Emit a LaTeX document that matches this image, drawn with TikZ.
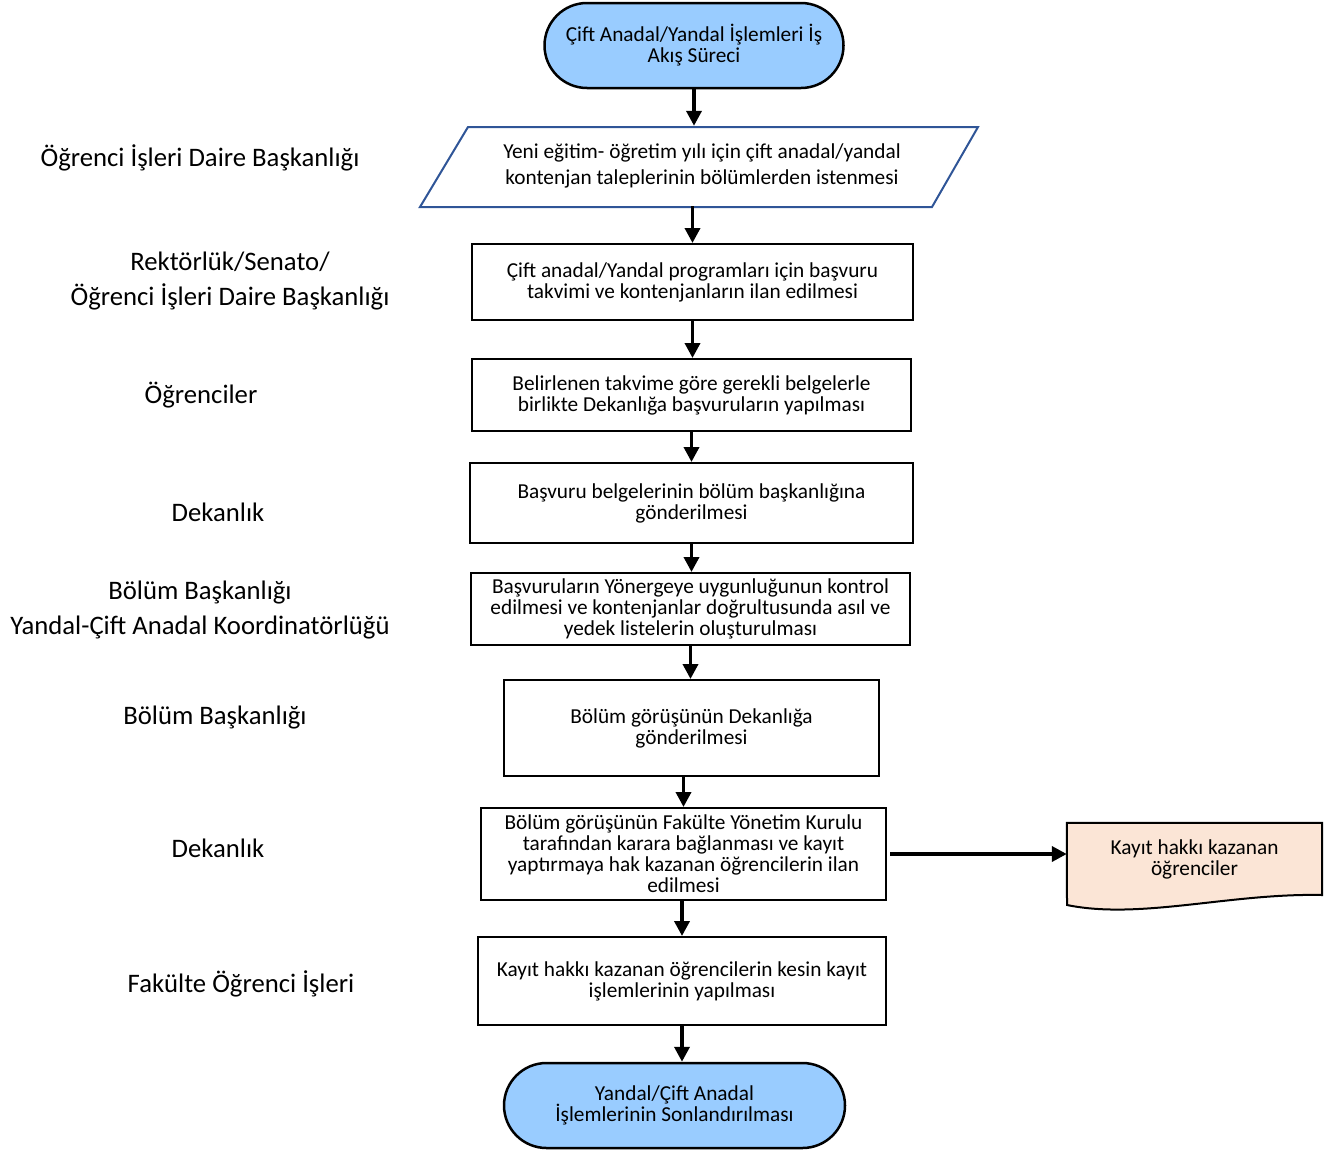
\documentclass[tikz,border=0pt]{standalone}
\usepackage{fontspec}
\setmainfont{Carlito}
\usetikzlibrary{shapes.misc,arrows.meta}
\definecolor{termblue}{HTML}{99CCFF}
\definecolor{parablue}{HTML}{2F5597}
\definecolor{docfill}{HTML}{FBE5D6}
\begin{document}
\begin{tikzpicture}[x=1pt,y=-1pt,
  boxtxt/.style={font=\fontsize{21.3}{21}\selectfont, align=center, inner sep=0pt},
  procbox/.style={boxtxt, draw=black, line width=2pt, fill=white},
  term/.style={boxtxt, rounded rectangle, draw=black, line width=2.5pt, fill=termblue},
  lanelbl/.style={font=\fontsize{26.7}{35}\selectfont, align=center, inner sep=0pt},
  arr/.style={line width=3.6pt, -{Triangle[length=15pt,width=15pt]}}
]
\useasboundingbox (0,0) rectangle (1324,1151);

% terminals
\node[term, minimum width=299pt, minimum height=85pt] (start) at (694,45.5) {Çift Anadal/Yandal İşlemleri İş\\Akış Süreci};

% parallelogram
\node[boxtxt, font=\fontsize{21.3}{26.5}\selectfont, minimum width=460pt, minimum height=80pt] (para) at (702,166) {Yeni eğitim- öğretim yılı için çift anadal/yandal\\kontenjan taleplerinin bölümlerden istenmesi};
\draw[parablue, line width=2pt, line join=miter] (420,207) -- (468,127) -- (978,127) -- (932,207) -- cycle;

% process boxes
\node[procbox, minimum width=441pt, minimum height=76pt] (b2) at (692.5,282) {Çift anadal/Yandal programları için başvuru\\takvimi ve kontenjanların ilan edilmesi};
\node[procbox, minimum width=439pt, minimum height=72pt] (b3) at (691.5,395) {Belirlenen takvime göre gerekli belgelerle\\birlikte Dekanlığa başvuruların yapılması};
\node[procbox, minimum width=443pt, minimum height=80pt] (b4) at (691.5,503) {Başvuru belgelerinin bölüm başkanlığına\\gönderilmesi};
\node[procbox, minimum width=439pt, minimum height=72pt] (b5) at (690.5,609) {Başvuruların Yönergeye uygunluğunun kontrol\\edilmesi ve kontenjanlar doğrultusunda asıl ve\\yedek listelerin oluşturulması};
\node[procbox, minimum width=375pt, minimum height=96pt] (b6) at (691.5,728) {Bölüm görüşünün Dekanlığa\\gönderilmesi};
\node[procbox, minimum width=405pt, minimum height=92pt] (b7) at (683.5,854) {Bölüm görüşünün Fakülte Yönetim Kurulu\\tarafından karara bağlanması ve kayıt\\yaptırmaya hak kazanan öğrencilerin ilan\\edilmesi};
\node[procbox, minimum width=408pt, minimum height=88pt] (b8) at (682,981) {Kayıt hakkı kazanan öğrencilerin kesin kayıt\\işlemlerinin yapılması};

\node[term, minimum width=341pt, minimum height=85pt] (end) at (674.5,1105.5) {Yandal/Çift Anadal\\İşlemlerinin Sonlandırılması};

% document shape
\node[boxtxt, minimum width=255pt, minimum height=74pt] (doc) at (1194.5,860) {};
\draw[black, line width=2pt, fill=docfill]
  (doc.north west) -- (doc.north east) -- (1322,895)
  .. controls (1230,893) and (1140,920) .. (1067,905) -- cycle;
\node[boxtxt] (doctxt) at (1194.5,859) {Kayıt hakkı kazanan\\öğrenciler};

% connectors
\draw[arr] (start.south) -- (start.south |- para.north);
\draw[arr] (b2.north |- para.south) -- (b2.north);
\draw[arr] (b2.south) -- (b2.south |- b3.north);
\draw[arr] (b3.south) -- (b3.south |- b4.north);
\draw[arr] (b4.south) -- (b4.south |- b5.north);
\draw[arr] (b5.south) -- (b5.south |- b6.north);
\draw[arr] (b7.north |- b6.south) -- (b7.north);
\draw[arr] (b8.north |- b7.south) -- (b8.north);
\draw[arr] (b8.south) -- (b8.south |- end.north);
\draw[arr, shorten <=3pt] (b7.east) -- (b7.east -| doc.west);

% lane labels
\node[lanelbl] (l1) at (200,158) {Öğrenci İşleri Daire Başkanlığı};
\node[lanelbl] (l2) at (230,281.5) {Rektörlük/Senato/\\Öğrenci İşleri Daire Başkanlığı};
\node[lanelbl] (l3) at (201,395) {Öğrenciler};
\node[lanelbl] (l4) at (218,512) {Dekanlık};
\node[lanelbl] (l5) at (200,610.5) {Bölüm Başkanlığı\\Yandal-Çift Anadal Koordinatörlüğü};
\node[lanelbl] (l6) at (215,718) {Bölüm Başkanlığı};
\node[lanelbl] (l7) at (218,848) {Dekanlık};
\node[lanelbl] (l8) at (241,984) {Fakülte Öğrenci İşleri};
\end{tikzpicture}
\end{document}
